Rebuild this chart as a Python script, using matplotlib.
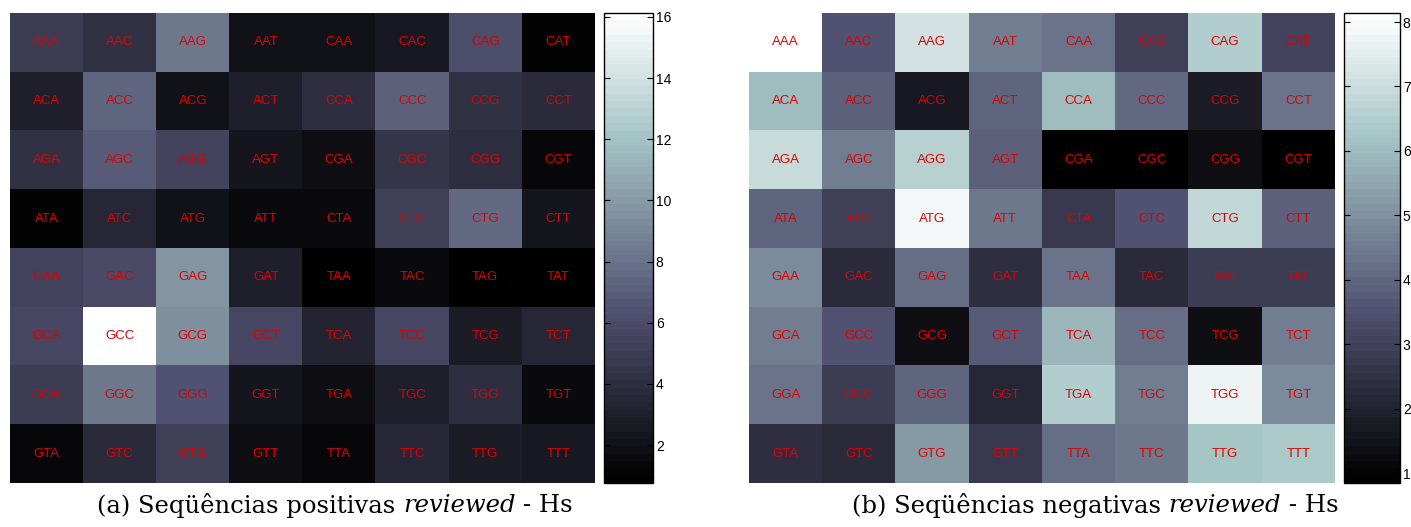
import numpy as np
import matplotlib
matplotlib.use("Agg")
import matplotlib.pyplot as plt

codons = [
    ["AAA", "AAC", "AAG", "AAT", "CAA", "CAC", "CAG", "CAT"],
    ["ACA", "ACC", "ACG", "ACT", "CCA", "CCC", "CCG", "CCT"],
    ["AGA", "AGC", "AGG", "AGT", "CGA", "CGC", "CGG", "CGT"],
    ["ATA", "ATC", "ATG", "ATT", "CTA", "CTC", "CTG", "CTT"],
    ["GAA", "GAC", "GAG", "GAT", "TAA", "TAC", "TAG", "TAT"],
    ["GCA", "GCC", "GCG", "GCT", "TCA", "TCC", "TCG", "TCT"],
    ["GGA", "GGC", "GGG", "GGT", "TGA", "TGC", "TGG", "TGT"],
    ["GTA", "GTC", "GTG", "GTT", "TTA", "TTC", "TTG", "TTT"],
]

positive = [
    [5.0, 4.2, 8.3, 2.2, 2.2, 2.6, 6.2, 1.1],
    [3.1, 7.3, 2.0, 3.0, 4.0, 7.1, 4.3, 3.8],
    [4.3, 6.9, 5.5, 2.4, 1.9, 4.5, 4.0, 1.3],
    [1.2, 3.6, 2.2, 1.7, 1.6, 5.1, 7.7, 2.4],
    [5.5, 5.9, 9.8, 3.0, 0.76, 1.5, 0.9, 1.0],
    [5.6, 16.13, 9.5, 5.7, 3.3, 5.6, 2.8, 3.6],
    [5.0, 8.3, 6.3, 2.4, 1.8, 3.0, 4.0, 1.5],
    [1.4, 3.8, 5.3, 1.9, 1.4, 3.5, 2.9, 2.6],
]

negative = [
    [8.14, 3.5, 7.2, 4.5, 4.3, 3.0, 6.5, 3.1],
    [6.0, 3.85, 1.76, 4.0, 6.0, 4.05, 1.8, 4.3],
    [7.0, 4.6, 6.6, 3.85, 0.85, 0.87, 1.35, 0.85],
    [4.0, 3.0, 7.85, 4.4, 2.7, 3.55, 6.85, 3.85],
    [4.95, 2.3, 4.2, 2.4, 4.3, 2.3, 2.9, 2.9],
    [4.5, 3.5, 1.37, 3.75, 5.9, 4.2, 1.35, 4.6],
    [4.3, 2.9, 4.0, 2.15, 6.5, 4.5, 7.75, 4.95],
    [2.4, 2.3, 5.2, 2.7, 4.2, 4.4, 6.25, 6.4],
]

pos_ticks = [2, 4, 6, 8, 10, 12, 14, 16]
neg_ticks = [1, 2, 3, 4, 5, 6, 7, 8]

caption_a = ["(a) Seqüências positivas ", "reviewed", " - Hs"]
caption_b = ["(b) Seqüências negativas ", "reviewed", " - Hs"]

W, H = 1411, 527
fig = plt.figure(figsize=(W / 100, H / 100), dpi=100)
cmap = plt.get_cmap("bone", 64)


def px(x0, y0, x1, y1):
    return [x0 / W, 1 - y1 / H, (x1 - x0) / W, (y1 - y0) / H]


def panel(axrect, caxrect, data, ticks):
    ax = fig.add_axes(axrect)
    arr = np.array(data)
    im = ax.imshow(arr, cmap=cmap, aspect="auto", interpolation="nearest",
                   vmin=arr.min(), vmax=arr.max())
    for i, row in enumerate(codons):
        for j, c in enumerate(row):
            ax.text(j, i, c, ha="center", va="center", color="#e00000",
                    fontsize=9.5, family="Liberation Sans")
    ax.axis("off")
    cax = fig.add_axes(caxrect)
    cb = fig.colorbar(im, cax=cax, ticks=ticks)
    cb.outline.set_linewidth(1.0)
    cax.yaxis.set_ticks_position("both")
    cax.yaxis.set_label_position("right")
    cax.tick_params(axis="y", direction="in", length=4, width=0.8,
                    labelright=True, labelleft=False, labelsize=10, pad=2)
    for t in cax.get_yticklabels():
        t.set_family("Liberation Sans")
    return ax


panel(px(10, 13, 595, 483), px(604, 13, 653, 483), positive, pos_ticks)
panel(px(749, 13, 1335, 483), px(1344, 13, 1400, 483), negative, neg_ticks)


def caption(parts, xc, yc):
    fs = 17.5
    t0 = fig.text(0, yc, parts[0], ha="left", va="center", fontsize=fs,
                  family="DejaVu Serif")
    t1 = fig.text(0, yc, parts[1], ha="left", va="center", fontsize=fs,
                  family="DejaVu Serif", style="italic")
    t2 = fig.text(0, yc, parts[2], ha="left", va="center", fontsize=fs,
                  family="DejaVu Serif")
    r = fig.canvas.get_renderer()
    w0 = t0.get_window_extent(r).width
    w1 = t1.get_window_extent(r).width
    w2 = t2.get_window_extent(r).width
    total = w0 + w1 + w2
    start = xc - total / 2
    t0.set_x(start / W)
    t1.set_x((start + w0) / W)
    t2.set_x((start + w0 + w1) / W)


caption(caption_a, 335, 1 - 506 / H)
caption(caption_b, 1095, 1 - 506 / H)

fig.savefig("out.png", dpi=100)
